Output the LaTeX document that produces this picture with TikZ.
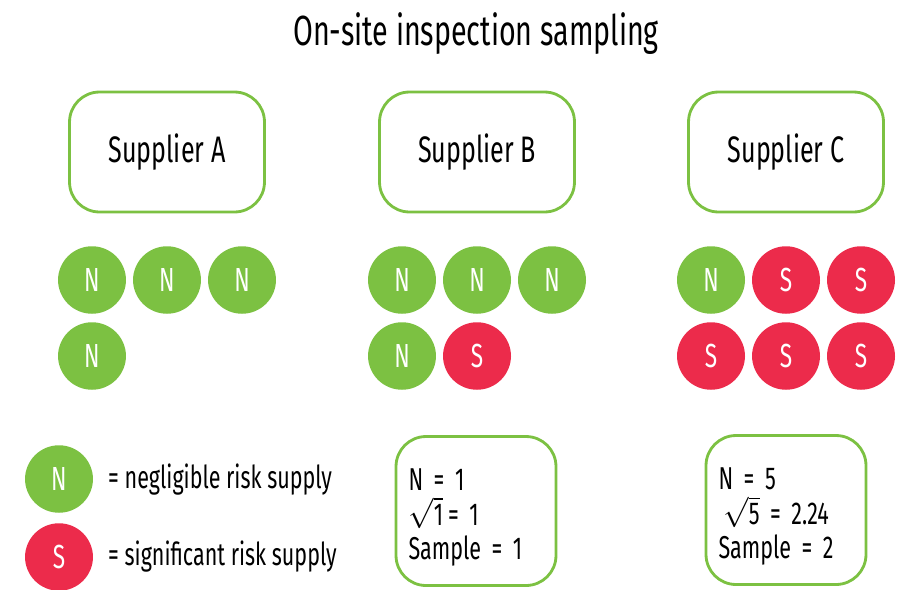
\documentclass[tikz,border=0pt]{standalone}
\usepackage{fontspec}
\setmainfont[FakeStretch=0.68]{Fira Sans}
\definecolor{riskN}{HTML}{7CC142}
\definecolor{riskS}{HTML}{EC2B4B}
\tikzset{
  supplier/.style={draw=riskN,line width=1.6pt,rounded corners=0.6cm,
    minimum width=3.9cm,minimum height=2.4cm,font=\fontsize{21}{24}\selectfont},
  nsup/.style={fill=riskN,rounded corners=0.68cm,minimum width=1.36cm,
    minimum height=1.35cm,inner sep=0pt,text=white,font=\fontsize{19}{22}\selectfont},
  ssup/.style={nsup,fill=riskS},
  calcbox/.style={draw=riskN,line width=1.6pt,rounded corners=0.6cm,
    minimum width=3.2cm,minimum height=2.98cm,text width=2.7cm,inner xsep=0.25cm,
    align=left,font=\fontsize{18}{19.6}\selectfont},
  legend/.style={anchor=west,font=\fontsize{18}{20}\selectfont}
}
\begin{document}
\begin{tikzpicture}[x=0.02cm,y=-0.02cm]
	\useasboundingbox (0,0) rectangle (899,589);
	\node (title) at (476,34) {\fontsize{24}{28}\selectfont On-site inspection sampling};

	% suppliers
	\node[supplier] (supA) at (167,152) {Supplier A};
	\node[supplier] (supB) at (477,152) {Supplier B};
	\node[supplier] (supC) at (786,152) {Supplier C};

	% supplies per supplier
	\node[nsup] (a1) at (92,280) {N};
	\node[nsup] (a2) at (167,280) {N};
	\node[nsup] (a3) at (242,280) {N};
	\node[nsup] (a4) at (92,356) {N};

	\node[nsup] (b1) at (402,280) {N};
	\node[nsup] (b2) at (477,280) {N};
	\node[nsup] (b3) at (552,280) {N};
	\node[nsup] (b4) at (402,356) {N};
	\node[ssup] (b5) at (477,356) {S};

	\node[nsup] (c1) at (711,280) {N};
	\node[ssup] (c2) at (786,280) {S};
	\node[ssup] (c3) at (861,280) {S};
	\node[ssup] (c4) at (711,356) {S};
	\node[ssup] (c5) at (786,356) {S};
	\node[ssup] (c6) at (861,356) {S};

	% legend
	\node[nsup] (keyN) at (59,479) {N};
	\node[ssup] (keyS) at (59,557) {S};
	\node[legend] (txtN) at (102,480) {= negligible risk supply};
	\node[legend] (txtS) at (102,557) {= significant risk supply};

	% sample size
	\node[calcbox] (calcB) at (476,511) {\rule{0pt}{20pt}N = 1\\ $\sqrt{\mbox{1}}\,$= 1\\ Sample = 1};
	\node[calcbox] (calcC) at (786,510) {\rule{0pt}{20pt}N = 5\\ $\,\sqrt{\mbox{5}}$ = 2.24\\ Sample = 2};
\end{tikzpicture}
\end{document}
